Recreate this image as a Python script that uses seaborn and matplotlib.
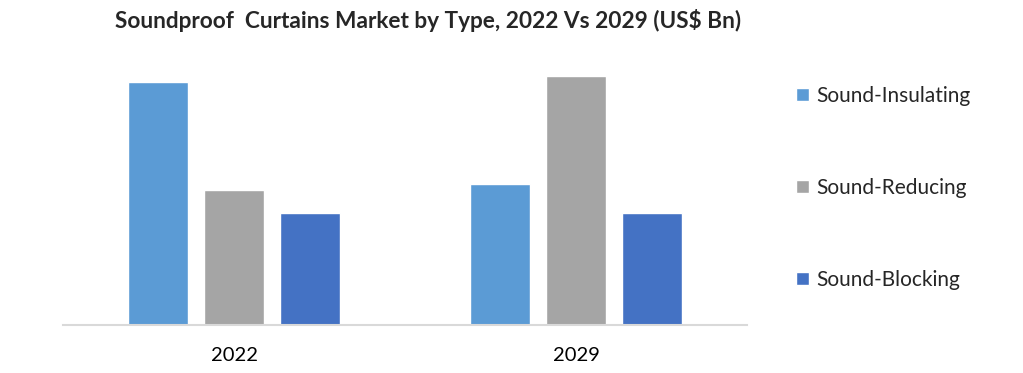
import pandas as pd
import seaborn as sns
from matplotlib import pyplot as plt

# # Data (arbitrary units - no y axis shown)

years = ["2022", "2029"]
types = ["Sound-Insulating", "Sound-Reducing", "Sound-Blocking"]
insulating = [2.43, 1.41]
reducing = [1.35, 2.49]
blocking = [1.12, 1.12]

colors = {"Sound-Insulating": "#5B9BD5",
          "Sound-Reducing": "#A5A5A5",
          "Sound-Blocking": "#4472C4"}

# long format for seaborn
rows = []
for t, vals in zip(types, [insulating, reducing, blocking]):
    for y, v in zip(years, vals):
        rows.append({"Year": y, "Type": t, "Value": v})
df = pd.DataFrame(rows)

sns.set_style("white")
plt.rcParams["font.family"] = ["Lato", "DejaVu Sans"]

fig = plt.figure(figsize=(10.23, 3.73), dpi=100)
ax = fig.add_axes([63 / 1023, 48 / 373, 684 / 1023, 270 / 373])

sns.barplot(data=df, x="Year", y="Value", hue="Type", hue_order=types,
            order=years, palette=colors, errorbar=None,
            width=0.667, gap=0.21, saturation=1, ax=ax)

ax.set_ylim(0, 2.7)
ax.set_xlim(-0.5, 1.5)
ax.set_xlabel("")
ax.set_ylabel("")
ax.set_yticks([])
for s in ["top", "right", "left"]:
    ax.spines[s].set_visible(False)
ax.spines["bottom"].set_color("#D9D9D9")
ax.spines["bottom"].set_linewidth(1.5)
ax.tick_params(axis="x", length=0, pad=16, labelsize=14.5, colors="#000000")

fig.text(0.418, 0.945, "Soundproof  Curtains Market by Type, 2022 Vs 2029 (US$ Bn)",
         ha="center", va="center", fontsize=16.3, fontweight="bold")

sns.move_legend(ax, loc="center left", bbox_to_anchor=(1.044, 0.508),
                title=None, frameon=False, fontsize=15, labelspacing=3.46,
                handlelength=0.64, handleheight=0.64, handletextpad=0.36)

fig.savefig("out.png", dpi=100, facecolor="white")
